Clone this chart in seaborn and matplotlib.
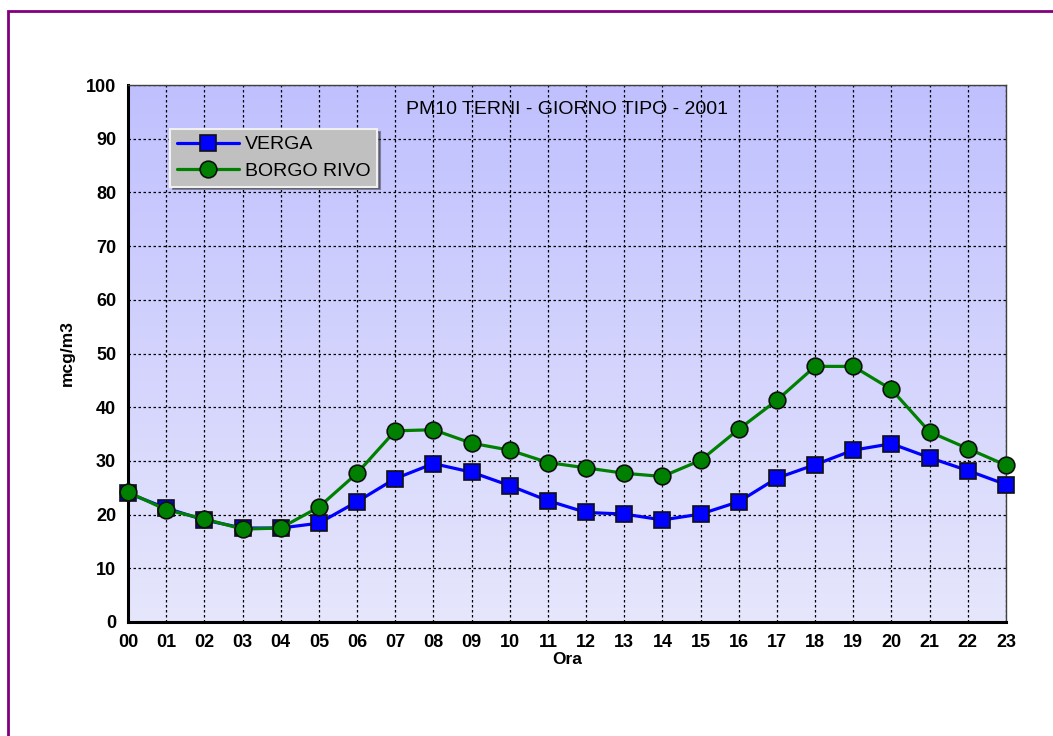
import matplotlib
matplotlib.use("Agg")
import matplotlib.pyplot as plt
from matplotlib.patches import Rectangle
from matplotlib.ticker import AutoMinorLocator, MultipleLocator
import numpy as np
import pandas as pd
import seaborn as sns

hours = ["00", "01", "02", "03", "04", "05", "06", "07", "08", "09", "10", "11",
         "12", "13", "14", "15", "16", "17", "18", "19", "20", "21", "22", "23"]
verga = [24.0, 21.2, 19.0, 17.5, 17.5, 18.4, 22.4, 26.7, 29.5, 27.9, 25.4, 22.6,
         20.4, 20.1, 19.0, 20.1, 22.4, 26.8, 29.3, 32.0, 33.2, 30.6, 28.2, 25.6]
borgo_rivo = [24.2, 20.9, 19.2, 17.3, 17.5, 21.4, 27.7, 35.6, 35.8, 33.3, 32.0, 29.7,
              28.7, 27.7, 27.1, 30.1, 35.9, 41.3, 47.6, 47.6, 43.3, 35.4, 32.3, 29.2]
series_names = ["VERGA", "BORGO RIVO"]

df = pd.concat([
    pd.DataFrame({"ora": np.arange(len(hours)), "valore": verga, "stazione": series_names[0]}),
    pd.DataFrame({"ora": np.arange(len(hours)), "valore": borgo_rivo, "stazione": series_names[1]}),
])

sns.set_theme(style="white")
plt.rcParams["font.family"] = ["Liberation Sans", "DejaVu Sans"]
plt.rcParams["text.color"] = "black"
plt.rcParams["axes.labelcolor"] = "black"
plt.rcParams["xtick.color"] = "black"
plt.rcParams["ytick.color"] = "black"
tick_font = ["Liberation Sans Narrow", "Liberation Sans", "DejaVu Sans"]

fig = plt.figure(figsize=(10.53, 7.36), dpi=100)
fig.patch.set_facecolor("white")
ax = fig.add_axes([128 / 1053, 1 - 622 / 736, 878 / 1053, 537 / 736])

# purple outer frame (runs off the right/bottom edges)
fig.patches.append(Rectangle((8 / 1053, -0.2), 1.2, 1 - 11 / 736 + 0.2, transform=fig.transFigure,
                             fill=False, edgecolor="#800080", linewidth=2, zorder=0))

# gradient background
grad = np.linspace(0, 1, 256).reshape(-1, 1)
top = np.array([192, 192, 255]) / 255
bot = np.array([230, 230, 252]) / 255
img = top[None, None, :] * (1 - grad[:, :, None]) + bot[None, None, :] * grad[:, :, None]
ax.imshow(img, extent=[0, 23, 0, 100], aspect="auto", origin="upper", zorder=0)

sns.lineplot(data=df, x="ora", y="valore", hue="stazione", style="stazione",
             palette={"VERGA": "#0000ff", "BORGO RIVO": "#008000"},
             markers={"VERGA": "s", "BORGO RIVO": "o"}, dashes=False,
             markersize=12, markeredgecolor="#101010", markeredgewidth=1.2,
             linewidth=2.3, ax=ax, zorder=3, clip_on=False)

ax.set_xlim(0, 23)
ax.set_ylim(0, 100)
ax.yaxis.set_major_locator(MultipleLocator(10))
ax.set_xticks(range(len(hours)))
ax.set_xticklabels(hours)
ax.xaxis.set_minor_locator(AutoMinorLocator(5))
ax.yaxis.set_minor_locator(AutoMinorLocator(4))
ax.tick_params(axis="both", which="major", direction="out", length=5, width=1, color="black", labelsize=13)
ax.tick_params(axis="both", which="minor", direction="out", length=3, width=0.8, color="#333333")
for lab in ax.get_xticklabels() + ax.get_yticklabels():
    lab.set_family(tick_font)
    lab.set_fontweight("bold")

ax.grid(True, which="major", color="black", linestyle=(0, (2, 2)), linewidth=0.9)
for gl in ax.get_xgridlines() + ax.get_ygridlines():
    gl.set_zorder(1)

for side in ["left", "bottom"]:
    ax.spines[side].set_linewidth(2.2)
    ax.spines[side].set_color("black")
for side in ["top", "right"]:
    ax.spines[side].set_linewidth(1)
    ax.spines[side].set_color("#404040")

ax.set_xlabel("Ora", family=tick_font, fontweight="bold", fontsize=12.5, labelpad=1)
ax.set_ylabel("mcg/m3", family=tick_font, fontweight="bold", fontsize=12.5, labelpad=8)
ax.text(0.5, 0.955, "PM10 TERNI - GIORNO TIPO - 2001", transform=ax.transAxes,
        ha="center", va="center", fontsize=14, color="black", zorder=5)

leg = ax.legend(loc="upper left", bbox_to_anchor=(0.048, 0.918), borderaxespad=0,
                fontsize=14, title=None, frameon=True, fancybox=False, shadow=True,
                facecolor="#c0c0c0", edgecolor="#f0f0f0", framealpha=1,
                handlelength=3.2, handletextpad=0.3, labelspacing=0.45,
                borderpad=0.35)
leg.get_frame().set_linewidth(1.5)
leg.set_zorder(6)

fig.savefig("out.png", dpi=100)
